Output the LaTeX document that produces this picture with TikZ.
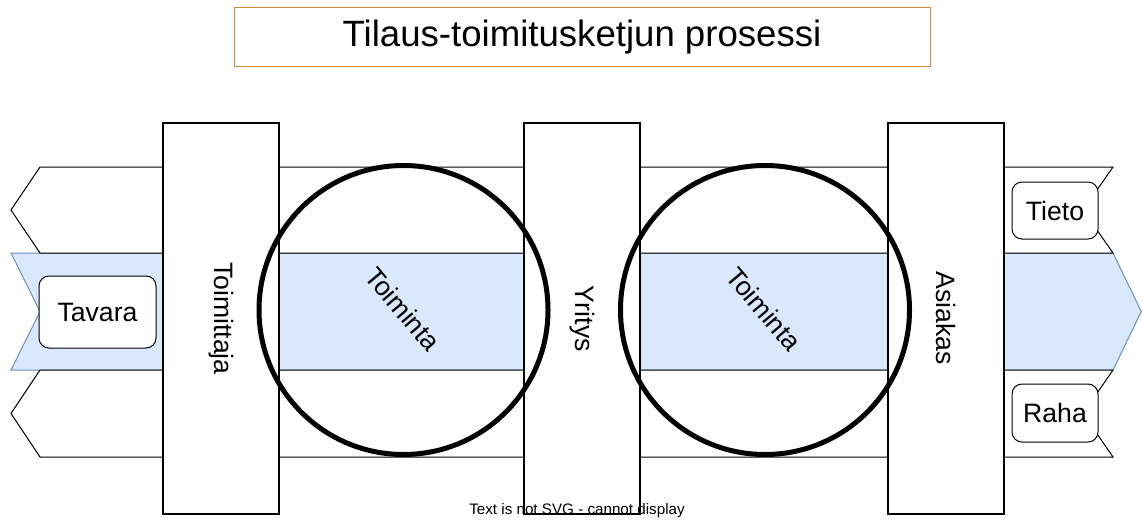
\documentclass[tikz,border=0pt]{standalone}
\usepackage{fontspec}
\setmainfont{Liberation Sans}
\definecolor{bandblue}{HTML}{DAE8FC}
\definecolor{bandline}{HTML}{6C8EBF}
\definecolor{titleline}{HTML}{CC8A3C}
\tikzset{
  bandshape/.style={draw=black, fill=white, line width=1pt, line join=miter},
  midband/.style={draw=bandline, fill=bandblue, line width=1pt},
  vbox/.style={draw=black, fill=white, line width=1.2pt, rotate=-90, minimum width=391pt, minimum height=116pt, inner sep=0pt, font=\fontsize{26.6}{30}\selectfont},
  ring/.style={circle, draw=black, line width=5pt, minimum size=289pt, inner sep=0pt},
  actlabel/.style={rotate=-50, inner sep=0pt, font=\fontsize{26.6}{30}\selectfont},
  flowbox/.style={draw=black, fill=white, line width=1pt, rounded corners=10pt, inner sep=0pt, font=\fontsize{26.6}{30}\selectfont},
  titlebox/.style={draw=titleline, line width=1pt, minimum width=696pt, minimum height=58pt, inner sep=0pt, font=\fontsize{36.6}{40}\selectfont},
  notetext/.style={inner sep=0pt, font=\fontsize{15.2}{17}\selectfont}
}
\begin{document}
\begin{tikzpicture}[x=1pt,y=-1pt]
\useasboundingbox (0,0) rectangle (1142,519);
% middle band (goods, pointing right)
\path[midband] (11,253) -- (1113,253) -- (1141.3,311.5) -- (1113,370) -- (11,370) -- (40,311.5) -- cycle;
% top band (information, pointing left)
\path[bandshape] (40,167) -- (1113,167) -- (1083,210) -- (1113,253) -- (40,253) -- (11,210) -- cycle;
% bottom band (money, pointing left)
\path[bandshape] (40,370) -- (1113,370) -- (1083,413.5) -- (1113,457) -- (40,457) -- (11,413.5) -- cycle;
% vertical actors
\node[vbox] (toimittaja) at (221,318.5) {Toimittaja};
\node[vbox] (yritys) at (582,318.5) {Yritys};
\node[vbox] (asiakas) at (946,318.5) {Asiakas};
% circles
\node[ring] (ring1) at (403.5,310) {};
\node[ring] (ring2) at (765,310) {};
% activity labels
\node[actlabel] (act1) at (403,309) {Toiminta};
\node[actlabel] (act2) at (764,309) {Toiminta};
% flow boxes
\node[flowbox, minimum width=117pt, minimum height=72pt] (tavara) at (97.5,312) {Tavara};
\node[flowbox, minimum width=86pt, minimum height=57pt] (tieto) at (1055,210.5) {Tieto};
\node[flowbox, minimum width=86pt, minimum height=58pt] (raha) at (1055,413) {Raha};
% title
\node[titlebox] (title) at (582,37) {Tilaus-toimitusketjun prosessi};
% note
\node[notetext] (note) at (577,511) {Text is not SVG - cannot display};
\end{tikzpicture}
\end{document}
